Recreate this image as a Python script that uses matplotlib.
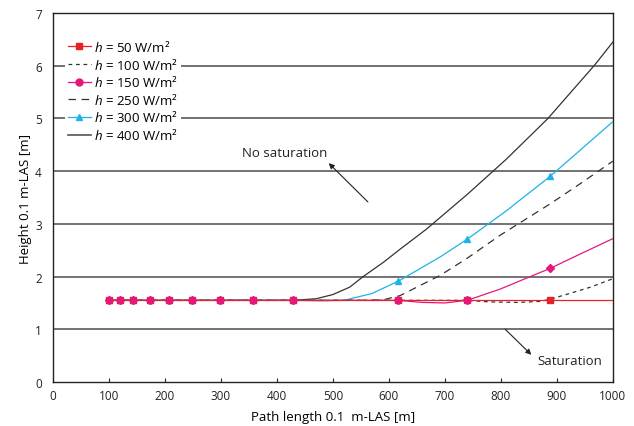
import matplotlib
matplotlib.use('Agg')
import matplotlib.pyplot as plt

# curve data (path length in m, height in m)
x_flat = [100, 120, 143, 173, 207, 248, 298, 357, 429]
y_flat = [1.55] * len(x_flat)

x_50 = x_flat + [617, 740, 888, 1000]
y_50 = y_flat + [1.55, 1.55, 1.55, 1.55]

x_100 = x_flat + [617, 740, 780, 830, 870, 888, 929, 960, 1000]
y_100 = y_flat + [1.55, 1.55, 1.52, 1.51, 1.53, 1.57, 1.70, 1.80, 1.96]

x_150 = x_flat + [617, 660, 700, 740, 798, 857, 889, 940, 1000]
y_150 = y_flat + [1.55, 1.51, 1.50, 1.55, 1.76, 2.02, 2.16, 2.42, 2.72]

x_250 = x_flat + [560, 590, 620, 691, 740, 798, 888, 940, 1000]
y_250 = y_flat + [1.55, 1.56, 1.64, 2.02, 2.35, 2.78, 3.38, 3.75, 4.19]

x_300 = x_flat + [480, 520, 570, 618, 691, 740, 810, 889, 1000]
y_300 = y_flat + [1.54, 1.55, 1.68, 1.92, 2.37, 2.71, 3.25, 3.91, 4.94]

x_400 = x_flat + [470, 500, 530, 554, 590, 620, 667, 740, 810, 884, 968, 1000]
y_400 = y_flat + [1.58, 1.66, 1.80, 2.00, 2.27, 2.52, 2.90, 3.56, 4.23, 5.00, 6.02, 6.45]

# marker positions
mark_x = x_flat + [617, 740, 888]
mark_50 = [1.55] * len(mark_x)
mark_150 = [1.55] * (len(mark_x) - 1) + [2.16]
mark_300 = [1.55] * 9 + [1.92, 2.71, 3.91]

plt.rcParams['font.family'] = ['Open Sans', 'DejaVu Sans']
plt.rcParams['mathtext.fontset'] = 'custom'
plt.rcParams['mathtext.it'] = 'Open Sans:italic'
plt.rcParams['mathtext.rm'] = 'Open Sans'

red = '#e42328'
pink = '#e5177f'
cyan = '#1db3e6'
dark = '#333333'

fig = plt.figure(figsize=(6.34, 4.27), dpi=100)
ax = fig.add_axes([0.0836, 0.103, 0.883, 0.864])

for yg in range(1, 7):
    ax.axhline(yg, color='#5a5a5a', lw=1.2, zorder=1)

lw = 0.9
ax.plot(x_400, y_400, color=dark, lw=lw, zorder=3)
ax.plot(x_300, y_300, color=cyan, lw=lw, zorder=3)
ax.plot(mark_x, mark_300, ls='none', marker='^', ms=5, color=cyan, zorder=4)
ax.plot(x_250, y_250, color=dark, lw=lw, dashes=(6, 4.5), zorder=3)
ax.plot(x_100, y_100, color=dark, lw=lw, dashes=(3, 3), zorder=3)
ax.plot(x_150, y_150, color=pink, lw=lw, zorder=3)
ax.plot(x_50, y_50, color=red, lw=lw, zorder=3)
ax.plot(mark_x, mark_50, ls='none', marker='s', ms=5, color=red, zorder=5)
ax.plot(mark_x, mark_150, ls='none', marker='D', ms=4.5, color=pink, zorder=6)

# legend proxies
handles = [
    plt.Line2D([], [], color=red, lw=lw, marker='s', ms=5),
    plt.Line2D([], [], color=dark, lw=lw, dashes=(3, 3)),
    plt.Line2D([], [], color=pink, lw=lw, marker='o', ms=5),
    plt.Line2D([], [], color=dark, lw=lw, dashes=(6, 4.5)),
    plt.Line2D([], [], color=cyan, lw=lw, marker='^', ms=5),
    plt.Line2D([], [], color='#555555', lw=1.2),
]
labels = [r'$h$ = 50 W/m²', r'$h$ = 100 W/m²', r'$h$ = 150 W/m²',
          r'$h$ = 250 W/m²', r'$h$ = 300 W/m²', r'$h$ = 400 W/m²']
leg = ax.legend(handles, labels, loc='upper left', bbox_to_anchor=(0.01, 0.955),
                frameon=True, fontsize=9.5, handlelength=1.75,
                handletextpad=0.25, labelspacing=0.2, borderpad=0.2,
                fancybox=False)
leg.get_frame().set_edgecolor('none')
leg.get_frame().set_facecolor('white')
leg.get_frame().set_alpha(1)
leg.set_zorder(2)

ax.annotate('', xy=(489, 4.19), xytext=(566, 3.38),
            arrowprops=dict(arrowstyle='-|>', color='#222222', lw=0.8,
                            mutation_scale=8))
ax.text(414, 4.35, 'No saturation', ha='center', va='center', fontsize=9.5,
        color='#222222')
ax.annotate('', xy=(858, 0.48), xytext=(804, 1.04),
            arrowprops=dict(arrowstyle='-|>', color='#222222', lw=0.8,
                            mutation_scale=8))
ax.text(923, 0.40, 'Saturation', ha='center', va='center', fontsize=9.5,
        color='#222222')

ax.set_xlim(0, 1000)
ax.set_ylim(0, 7)
ax.set_xticks(range(0, 1001, 100))
ax.set_yticks(range(0, 8))
ax.tick_params(axis='x', direction='in', length=3, labelsize=8.5,
               colors='#222222', pad=5)
ax.tick_params(axis='y', length=0, labelsize=8.5, colors='#222222', pad=8)
for s in ax.spines.values():
    s.set_color('#222222')
    s.set_linewidth(1.0)

ax.set_xlabel('Path length 0.1  m-LAS [m]', fontsize=9.5, labelpad=6)
ax.set_ylabel('Height 0.1 m-LAS [m]', fontsize=9.5, labelpad=2)

fig.savefig('out.png', dpi=100)
